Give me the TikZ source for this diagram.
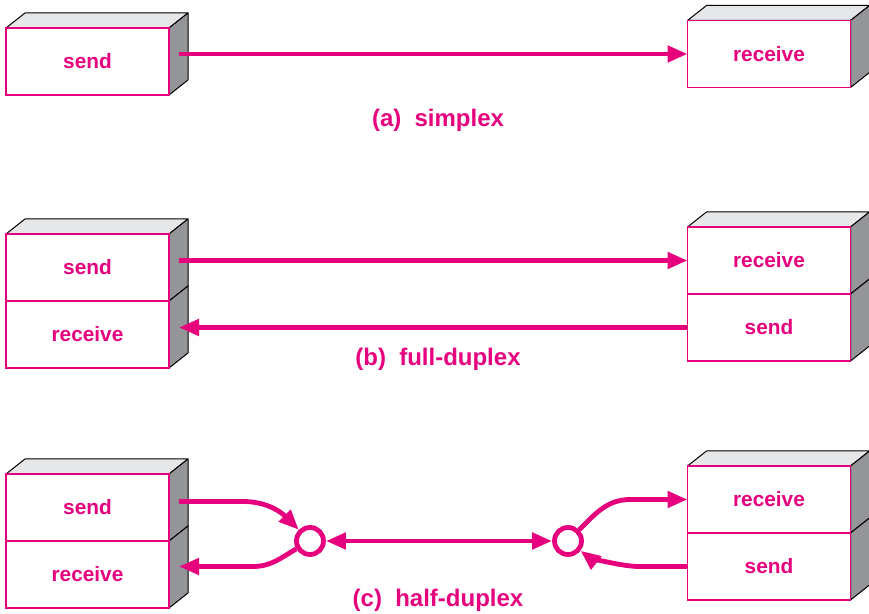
\documentclass[tikz,border=0pt]{standalone}
\usepackage{fontspec}
\setsansfont{Liberation Sans}
\usetikzlibrary{positioning, arrows.meta, backgrounds}

\definecolor{rubine}{RGB}{230,0,126}
\definecolor{topgray}{RGB}{230,231,232}
\definecolor{sidegray}{RGB}{147,149,152}

% the grey top and side of a unit (offset 19,-15 in picture units)
\newcommand{\unittop}[1]{\filldraw[topface] (#1.north west) -- ([shift={(19,-15)}]#1.north west)
  -- ([shift={(19,-15)}]#1.north east) -- (#1.north east) -- cycle;}
\newcommand{\unitside}[1]{\filldraw[sideface] (#1.north east) -- ([shift={(19,-15)}]#1.north east)
  -- ([shift={(19,-15)}]#1.south east) -- (#1.south east) -- cycle;}

\begin{document}
\begin{tikzpicture}[x=0.5pt, y=-0.5pt,
  unit/.style={draw=rubine, line width=0.7pt, fill=white, minimum width=81.5pt,
    minimum height=33.5pt, inner sep=0pt, outer sep=0pt, text=rubine,
    font=\sffamily\bfseries\fontsize{10.4}{12}\selectfont},
  topface/.style={fill=topgray, draw=black, line width=0.5pt, line join=round},
  sideface/.style={fill=sidegray, draw=black, line width=0.5pt, line join=round},
  link/.style={draw=rubine, line width=2.4pt, -{Triangle[length=10pt,width=8pt]}},
  hub/.style={circle, draw=rubine, line width=2.4pt, fill=white, minimum size=13.5pt, inner sep=0pt},
  caption/.style={text=rubine, font=\sffamily\bfseries\fontsize{12}{14}\selectfont}]
  \useasboundingbox (0,0) rectangle (869,614);

  % (a) simplex
  \node[unit] (sendA) at (87.5,61.5) {send};
  \node[unit] (recvA) at (769,54) {receive};
  \draw[link] ([xshift=5pt]sendA.east |- recvA.west) -- (recvA.west);
  \node[caption] (capA) at (438,120) {(a)\hspace{0.55em}simplex};

  % (b) full-duplex
  \node[unit] (sendB) at (87.5,267.5) {send};
  \node[unit, below=0pt of sendB] (recvB) {receive};
  \node[unit] (recvBr) at (769,260.5) {receive};
  \node[unit, below=0pt of recvBr] (sendBr) {send};
  \draw[link] ([xshift=5pt]sendB.east |- recvBr.west) -- (recvBr.west);
  \draw[link] (sendBr.west) -- ([xshift=5pt]recvB.east |- sendBr.west);
  \node[caption] (capB) at (438,359) {(b)\hspace{0.55em}full-duplex};

  % (c) half-duplex
  \node[unit] (sendC) at (87.5,507.5) {send};
  \node[unit, below=0pt of sendC] (recvC) {receive};
  \node[unit] (recvCr) at (769,499.5) {receive};
  \node[unit, below=0pt of recvCr] (sendCr) {send};
  \node[hub] (jL) at (310,541) {};
  \node[hub] (jR) at (568,541) {};
  \draw[link] ([xshift=5pt,yshift=3pt]sendC.east) -- ([xshift=37pt,yshift=3pt]sendC.east)
    to[out=0, in=135] (jL);
  \draw[link] (jL) to[out=210, in=0] ([xshift=42pt,yshift=4pt]recvC.east)
    -- ([xshift=5pt,yshift=4pt]recvC.east);
  \draw[link, {Triangle[length=10pt,width=8pt]}-{Triangle[length=10pt,width=8pt]}] (jL) -- (jR);
  \draw[link] (jR) to[out=45, in=180] ([xshift=-28.5pt]recvCr.west) -- (recvCr.west);
  \draw[link] (sendCr.west) -- ([xshift=-24pt]sendCr.west)
    .. controls +(-22,0) and +(18,14) .. (jR);
  \node[caption] (capC) at (438,600) {(c)\hspace{0.55em}half-duplex};

  % grey faces behind the fronts
  \begin{scope}[on background layer]
    \foreach \u in {sendA, recvA, sendB, recvBr, sendC, recvCr} {\unittop{\u}}
    \foreach \u in {sendA, recvA, sendB, recvB, recvBr, sendBr, sendC, recvC, recvCr, sendCr} {\unitside{\u}}
  \end{scope}
\end{tikzpicture}
\end{document}
